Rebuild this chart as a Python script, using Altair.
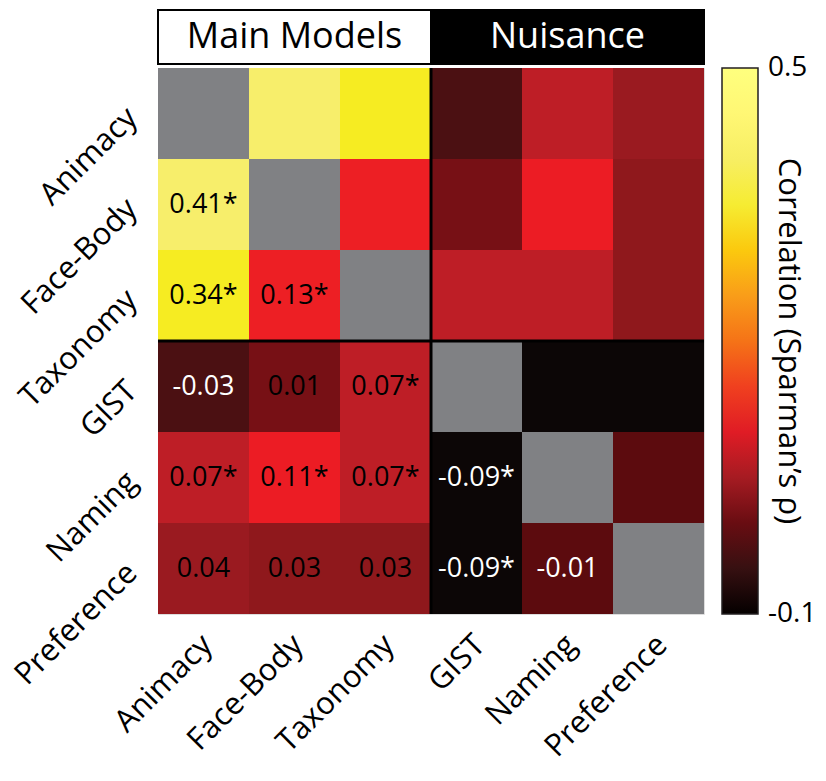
import altair as alt
import pandas as pd

models = ["Animacy", "Face-Body", "Taxonomy", "GIST", "Naming", "Preference"]
groups = ["Main Models", "Nuisance"]

# lower triangle (row i, columns 0..i-1)
lower_values = [
    [],
    [0.41],
    [0.34, 0.13],
    [-0.03, 0.01, 0.07],
    [0.07, 0.11, 0.07, -0.09],
    [0.04, 0.03, 0.03, -0.09, -0.01],
]
lower_sig = [
    [],
    [True],
    [True, True],
    [False, False, True],
    [True, True, True, True],
    [False, False, False, True, False],
]

# colormap (hot-like) stops, colour bar runs from -0.1 to 0.5
cmap_stops = [-0.1005, -0.09, -0.03, -0.01, 0.01, 0.03, 0.04, 0.07, 0.11, 0.13, 0.24, 0.34, 0.41, 0.5005]
cmap_colors = ["#000000", "#0c0606", "#4b1012", "#5c0b0e", "#771015", "#8f181c", "#9a1a20",
               "#be1e26", "#ec1c24", "#ed1f24", "#f7941d", "#f6ec22", "#f7ee6b", "#ffffff"]
bar_labels = [-0.1, 0.5]

records = []
for i, row in enumerate(models):
    records.append({"row": row, "col": row, "value": None, "label": "", "kind": "diag"})
    for j in range(i):
        v = lower_values[i][j]
        lab = f"{v:.2f}" + ("*" if lower_sig[i][j] else "")
        records.append({"row": row, "col": models[j], "value": v, "label": lab, "kind": "lower"})
        records.append({"row": models[j], "col": row, "value": v, "label": "", "kind": "upper"})
df = pd.DataFrame(records)

FONT = "Open Sans"
SIZE = 546
band = alt.Scale(domain=models, paddingInner=0, paddingOuter=0)

X = alt.X("col:N", scale=band, title=None,
          axis=alt.Axis(orient="bottom", labelAngle=-45, labelAlign="right", labelBaseline="middle",
                        labelFontSize=31, labelFont=FONT, labelColor="black", labelPadding=26,
                        labelOffset=4, ticks=False, domain=False))
Y = alt.Y("row:N", scale=band, title=None,
          axis=alt.Axis(labelAngle=-45, labelAlign="right", labelBaseline="middle",
                        labelFontSize=31, labelFont=FONT, labelColor="black", labelPadding=26,
                        ticks=False, domain=False))

base = alt.Chart(df).encode(x=X, y=Y)

cells = base.transform_filter("datum.kind != 'diag'").mark_rect(strokeWidth=0).encode(
    color=alt.Color("value:Q",
                    scale=alt.Scale(domain=cmap_stops, range=cmap_colors, clamp=True),
                    legend=alt.Legend(orient="none", legendX=SIZE + 18, legendY=0, direction="vertical",
                                      gradientLength=SIZE, gradientThickness=36,
                                      gradientStrokeColor="#231f20", gradientStrokeWidth=1.5,
                                      values=bar_labels,
                                      labelExpr="replace(format(datum.value, '.1f'), '\u2212', '-')",
                                      labelFontSize=28, labelFont=FONT, labelColor="black",
                                      labelOffset=10,
                                      title="Correlation (Sparman\u2019s \u03c1)", titleOrient="right",
                                      titleFontSize=31, titleFont=FONT, titleFontWeight="normal",
                                      titleColor="black", titleAnchor="middle", titlePadding=-44,
                                      titleLimit=800))
)
diag = base.transform_filter("datum.kind == 'diag'").mark_rect(color="#808184", strokeWidth=0)
texts = base.transform_filter("datum.kind == 'lower'").mark_text(fontSize=27, font=FONT).encode(
    text="label:N",
    color=alt.condition("datum.value < 0", alt.value("white"), alt.value("black")),
)

div = pd.DataFrame({"at": ["GIST"]})
vrule = alt.Chart(div).mark_rule(strokeWidth=3, color="black").encode(
    x=alt.X("at:N", scale=band, bandPosition=0))
hrule = alt.Chart(div).mark_rule(strokeWidth=3, color="black").encode(
    y=alt.Y("at:N", scale=band, bandPosition=0))

main = alt.layer(cells, diag, texts, vrule, hrule).properties(width=SIZE, height=SIZE)

hdf = pd.DataFrame({"group": groups})
hx = alt.X("group:N", scale=alt.Scale(domain=groups, paddingInner=0, paddingOuter=0), axis=None)
hrect = alt.Chart(hdf).mark_rect(stroke="black", strokeWidth=2).encode(
    x=hx, fill=alt.condition("datum.group == 'Nuisance'", alt.value("black"), alt.value("white")))
htext = alt.Chart(hdf).mark_text(fontSize=36, font=FONT).encode(
    x=hx, text="group:N",
    color=alt.condition("datum.group == 'Nuisance'", alt.value("white"), alt.value("black")))
header = alt.layer(hrect, htext).properties(width=SIZE, height=54)

chart = alt.vconcat(header, main, spacing=0).resolve_scale(
    x="independent", y="independent", color="independent"
).properties(padding=0).configure_view(stroke="black", strokeWidth=3).configure(font=FONT)

chart.save("out.html", embed_options={"renderer": "svg", "actions": False})
